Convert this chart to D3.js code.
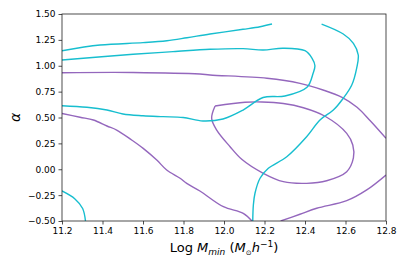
<!DOCTYPE html>
<html>
<head>
<meta charset="utf-8">
<script src="https://cdn.jsdelivr.net/npm/d3@7"></script>
<style>
  html, body { margin: 0; padding: 0; background: #fff; }
  svg { display: block; font-family: "DejaVu Sans", sans-serif; }
</style>
</head>
<body>
<div id="chart"></div>
<script>
// contour lines, [log Mmin, alpha]
const cyanTop = [
  [11.2, 1.145], [11.388, 1.20], [11.6, 1.223], [11.718, 1.242], [11.817, 1.271],
  [11.931, 1.307], [12.094, 1.352], [12.178, 1.377], [12.237, 1.403]
];
const cyanLoop = [
  [11.2, 1.056], [11.551, 1.111], [11.748, 1.136], [11.931, 1.159], [12.094, 1.165],
  [12.193, 1.152], [12.291, 1.169], [12.4, 1.145], [12.435, 1.072], [12.449, 1.0],
  [12.44, 0.927], [12.41, 0.792], [12.301, 0.708], [12.193, 0.693], [12.094, 0.572],
  [11.995, 0.486], [11.896, 0.466], [11.798, 0.5], [11.699, 0.508], [11.6, 0.517],
  [11.501, 0.534], [11.422, 0.572], [11.323, 0.599], [11.2, 0.614]
];
const cyanRight = [
  [12.482, 1.403], [12.589, 1.307], [12.639, 1.217], [12.663, 1.104], [12.655, 0.975],
  [12.631, 0.814], [12.589, 0.686], [12.54, 0.572], [12.474, 0.476], [12.408, 0.314],
  [12.31, 0.121], [12.219, 0.009], [12.178, -0.087], [12.153, -0.232], [12.145, -0.345],
  [12.142, -0.5]
];
const cyanCorner = [
  [11.2, -0.21], [11.264, -0.287], [11.302, -0.379], [11.316, -0.5]
];
const purpleTop = [
  [11.2, 0.933], [11.551, 0.935], [11.881, 0.92], [11.931, 0.911], [12.212, 0.879],
  [12.375, 0.83], [12.489, 0.766], [12.583, 0.695], [12.657, 0.599], [12.721, 0.471],
  [12.8, 0.299]
];
const purpleLeft = [
  [11.2, 0.539], [11.289, 0.502], [11.355, 0.476], [11.422, 0.418], [11.47, 0.379],
  [11.544, 0.283], [11.601, 0.202], [11.668, 0.089], [11.717, -0.007], [11.783, -0.087],
  [11.816, -0.136], [11.881, -0.21], [11.997, -0.362], [12.095, -0.426], [12.138, -0.5]
];
const purpleBottom = [
  [12.28, -0.5], [12.375, -0.435], [12.458, -0.377], [12.606, -0.304], [12.705, -0.2],
  [12.8, -0.056]
];
const purpleLoop = [
  [11.956, 0.611], [12.104, 0.647], [12.188, 0.65], [12.293, 0.635], [12.392, 0.594],
  [12.499, 0.512], [12.606, 0.347], [12.636, 0.234], [12.639, 0.109], [12.606, -0.024],
  [12.507, -0.111], [12.408, -0.136], [12.293, -0.12], [12.194, -0.039], [12.089, 0.094],
  [12.03, 0.218], [11.964, 0.379], [11.939, 0.492], [11.956, 0.611]
];

const xTicks = [11.2, 11.4, 11.6, 11.8, 12.0, 12.2, 12.4, 12.6, 12.8];
const yTicks = [-0.5, -0.25, 0, 0.25, 0.5, 0.75, 1.0, 1.25, 1.5];

const CYAN = '#17becf';
const PURPLE = '#9467bd';

const width = 407, height = 271;
const margin = { top: 14, right: 21, bottom: 50, left: 62 };

const svg = d3.select('#chart').append('svg')
  .attr('width', width)
  .attr('height', height);

const x = d3.scaleLinear().domain([11.2, 12.8]).range([margin.left, width - margin.right]);
const y = d3.scaleLinear().domain([-0.5, 1.5]).range([height - margin.bottom, margin.top]);

const plot = svg.append('g');

plot.append('clipPath')
  .attr('id', 'clip')
  .append('rect')
  .attr('x', x.range()[0])
  .attr('y', y.range()[1])
  .attr('width', x.range()[1] - x.range()[0])
  .attr('height', y.range()[0] - y.range()[1]);

const line = d3.line()
  .x(d => x(d[0]))
  .y(d => y(d[1]))
  .curve(d3.curveCatmullRom.alpha(0.5));

const contours = [
  { pts: purpleTop, color: PURPLE },
  { pts: purpleLeft, color: PURPLE },
  { pts: purpleBottom, color: PURPLE },
  { pts: purpleLoop, color: PURPLE },
  { pts: cyanTop, color: CYAN },
  { pts: cyanLoop, color: CYAN },
  { pts: cyanRight, color: CYAN },
  { pts: cyanCorner, color: CYAN }
];

plot.append('g')
  .attr('clip-path', 'url(#clip)')
  .selectAll('path')
  .data(contours)
  .enter()
  .append('path')
  .attr('d', d => line(d.pts))
  .attr('fill', 'none')
  .attr('stroke', d => d.color)
  .attr('stroke-width', 1.4)
  .attr('stroke-linejoin', 'round');

// axes
const fmtY = v => d3.format('.2f')(v).replace('-', '\u2212');

const xAxis = svg.append('g')
  .attr('transform', `translate(0,${y.range()[0]})`)
  .call(d3.axisBottom(x).tickValues(xTicks).tickFormat(d3.format('.1f')).tickSize(3.5).tickPadding(3));

const yAxis = svg.append('g')
  .attr('transform', `translate(${x.range()[0]},0)`)
  .call(d3.axisLeft(y).tickValues(yTicks).tickFormat(fmtY).tickSize(3.5).tickPadding(3));

[xAxis, yAxis].forEach(a => {
  a.select('.domain').remove();
  a.selectAll('line').attr('stroke', '#222').attr('stroke-width', 0.8);
  a.selectAll('text')
    .attr('fill', '#000')
    .style('font-size', '9px')
    .style('font-family', '"DejaVu Sans", sans-serif');
});

// frame
svg.append('rect')
  .attr('x', x.range()[0])
  .attr('y', y.range()[1])
  .attr('width', x.range()[1] - x.range()[0])
  .attr('height', y.range()[0] - y.range()[1])
  .attr('fill', 'none')
  .attr('stroke', '#222')
  .attr('stroke-width', 0.8);

// x label: Log M_min (M_sun h^-1)
const xl = svg.append('text')
  .attr('x', (x.range()[0] + x.range()[1]) / 2)
  .attr('y', 252)
  .attr('text-anchor', 'middle')
  .style('font-size', '13px')
  .attr('fill', '#000');
xl.append('tspan').text('Log ');
xl.append('tspan').attr('font-style', 'italic').text('M');
xl.append('tspan').attr('font-style', 'italic').attr('font-size', '9px').attr('dy', 3).text('min');
xl.append('tspan').attr('dy', -3).text(' (');
xl.append('tspan').attr('font-style', 'italic').text('M');
xl.append('tspan').attr('font-size', '7px').attr('dy', 3).text('\u2299');
xl.append('tspan').attr('font-style', 'italic').attr('dy', -3).text('h');
xl.append('tspan').attr('font-size', '9px').attr('dy', -5).text('\u22121');
xl.append('tspan').attr('dy', 5).text(')');

// y label
svg.append('text')
  .attr('transform', `translate(20,${(y.range()[0] + y.range()[1]) / 2}) rotate(-90)`)
  .attr('text-anchor', 'middle')
  .style('font-size', '14px')
  .attr('font-style', 'italic')
  .attr('fill', '#000')
  .text('\u03b1');
</script>
</body>
</html>
